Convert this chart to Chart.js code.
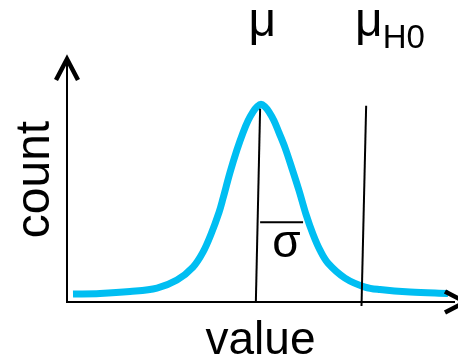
<!DOCTYPE html>
<html>
<head>
<meta charset="utf-8">
<script src="https://cdn.jsdelivr.net/npm/chart.js@4/dist/chart.umd.min.js"></script>
<style>
  html, body { margin: 0; padding: 0; background: #fff; }
  canvas { display: block; }
</style>
</head>
<body>
<canvas id="c" width="458" height="361"></canvas>
<script>
// ---- data (chart units: x 0..100, y 0..100) ----
const curveX = [1.55, 8.53, 16.28, 23.26, 28.42, 32.56, 35.14, 37.21, 39.28, 40.31, 42.12, 43.93, 45.48, 46.77, 48.06, 49.10, 50.13, 51.16, 52.20, 53.49, 54.78, 56.33, 58.14, 59.95, 61.76, 63.57, 65.37, 67.44, 71.83, 77.00, 80.88, 88.63, 98.45];
const curveY = [3.25, 3.46, 4.27, 5.69, 8.94, 14.23, 20.33, 27.64, 36.59, 42.28, 52.85, 62.20, 69.11, 73.98, 77.64, 79.67, 80.69, 79.67, 77.64, 73.98, 69.11, 63.01, 54.47, 45.53, 35.77, 27.64, 21.14, 15.85, 9.76, 6.10, 5.08, 4.07, 3.46];
const muLineX = [49.9, 48.8];
const muLineY = [78.9, 0];
const muH0LineX = [77.3, 76.1];
const muH0LineY = [80.1, -1.6];
const sigmaLineX = [49.9, 61.0];
const sigmaLineY = [32.6, 32.6];
const xTitle = 'value';
const yTitle = 'count';
const labelTexts = ['μ', 'μ', 'σ'];
const labelSubs = ['', 'H0', ''];

// label anchors (chart units) and styles
const labelAnchors = [
  { x: 50.5, y: 108.5, size: 48 },
  { x: 78.0, y: 108.5, size: 48 },
  { x: 56.7, y: 18.3, size: 46 }
];

const pts = (xs, ys) => xs.map((v, i) => ({ x: v, y: ys[i] }));
const FONT = "'Liberation Sans', Arial, sans-serif";

const decor = {
  id: 'decor',
  afterDatasetsDraw(chart) {
    const { ctx, chartArea, scales: { x, y } } = chart;
    ctx.save();
    // arrow heads
    ctx.strokeStyle = '#000';
    ctx.lineWidth = 4.5;
    ctx.lineJoin = 'miter';
    ctx.lineCap = 'butt';
    const ax = chartArea.left, ay = chartArea.top + 2;
    ctx.beginPath();
    ctx.moveTo(ax - 11, ay + 21);
    ctx.lineTo(ax, ay);
    ctx.lineTo(ax + 11, ay + 21);
    ctx.stroke();
    const bx = chartArea.right + 11, by = chartArea.bottom;
    ctx.beginPath();
    ctx.moveTo(bx - 20, by - 10.5);
    ctx.lineTo(bx, by);
    ctx.lineTo(bx - 20, by + 10.5);
    ctx.stroke();
    // labels
    ctx.fillStyle = '#000';
    ctx.textBaseline = 'alphabetic';
    labelTexts.forEach((t, i) => {
      const a = labelAnchors[i];
      const px = x.getPixelForValue(a.x);
      const py = y.getPixelForValue(a.y);
      ctx.font = a.size + 'px ' + FONT;
      ctx.textAlign = 'center';
      ctx.fillText(t, px, py);
      if (labelSubs[i]) {
        const w = ctx.measureText(t).width;
        ctx.font = '33px ' + FONT;
        ctx.textAlign = 'left';
        ctx.fillText(labelSubs[i], px + w / 2, py + 12);
      }
    });
    ctx.restore();
  }
};

const lineStyle = {
  borderColor: '#000',
  borderWidth: 2,
  pointRadius: 0,
  showLine: true,
  fill: false,
  clip: false,
  order: 1
};

new Chart(document.getElementById('c'), {
  type: 'scatter',
  data: {
    datasets: [
      Object.assign({ data: pts(muLineX, muLineY) }, lineStyle),
      Object.assign({ data: pts(muH0LineX, muH0LineY) }, lineStyle),
      Object.assign({ data: pts(sigmaLineX, sigmaLineY) }, lineStyle),
      {
        data: pts(curveX, curveY),
        showLine: true,
        borderColor: '#00BEF2',
        borderWidth: 7,
        pointRadius: 0,
        tension: 0.35,
        borderCapStyle: 'butt',
        borderJoinStyle: 'round',
        fill: false,
        order: 2
      }
    ]
  },
  options: {
    responsive: false,
    animation: false,
    devicePixelRatio: 1,
    layout: { padding: { top: 57, right: 4, left: 0, bottom: 0 } },
    plugins: { legend: { display: false }, tooltip: { enabled: false } },
    events: [],
    scales: {
      x: {
        type: 'linear', min: 0, max: 100,
        ticks: { display: false },
        grid: { display: false },
        border: { display: true, color: '#000', width: 2 },
        title: {
          display: true, text: xTitle, color: '#000',
          font: { family: FONT, size: 46, lineHeight: 1 },
          padding: { top: 0, bottom: -3 }
        },
        afterFit: s => { s.height = 59; }
      },
      y: {
        type: 'linear', min: 0, max: 100,
        ticks: { display: false },
        grid: { display: false },
        border: { display: true, color: '#000', width: 2 },
        title: {
          display: true, text: yTitle, color: '#000',
          font: { family: FONT, size: 48, lineHeight: 1 },
          padding: { top: 12, bottom: 0 }
        },
        afterFit: s => { s.width = 67; }
      }
    }
  },
  plugins: [decor]
});
</script>
</body>
</html>
